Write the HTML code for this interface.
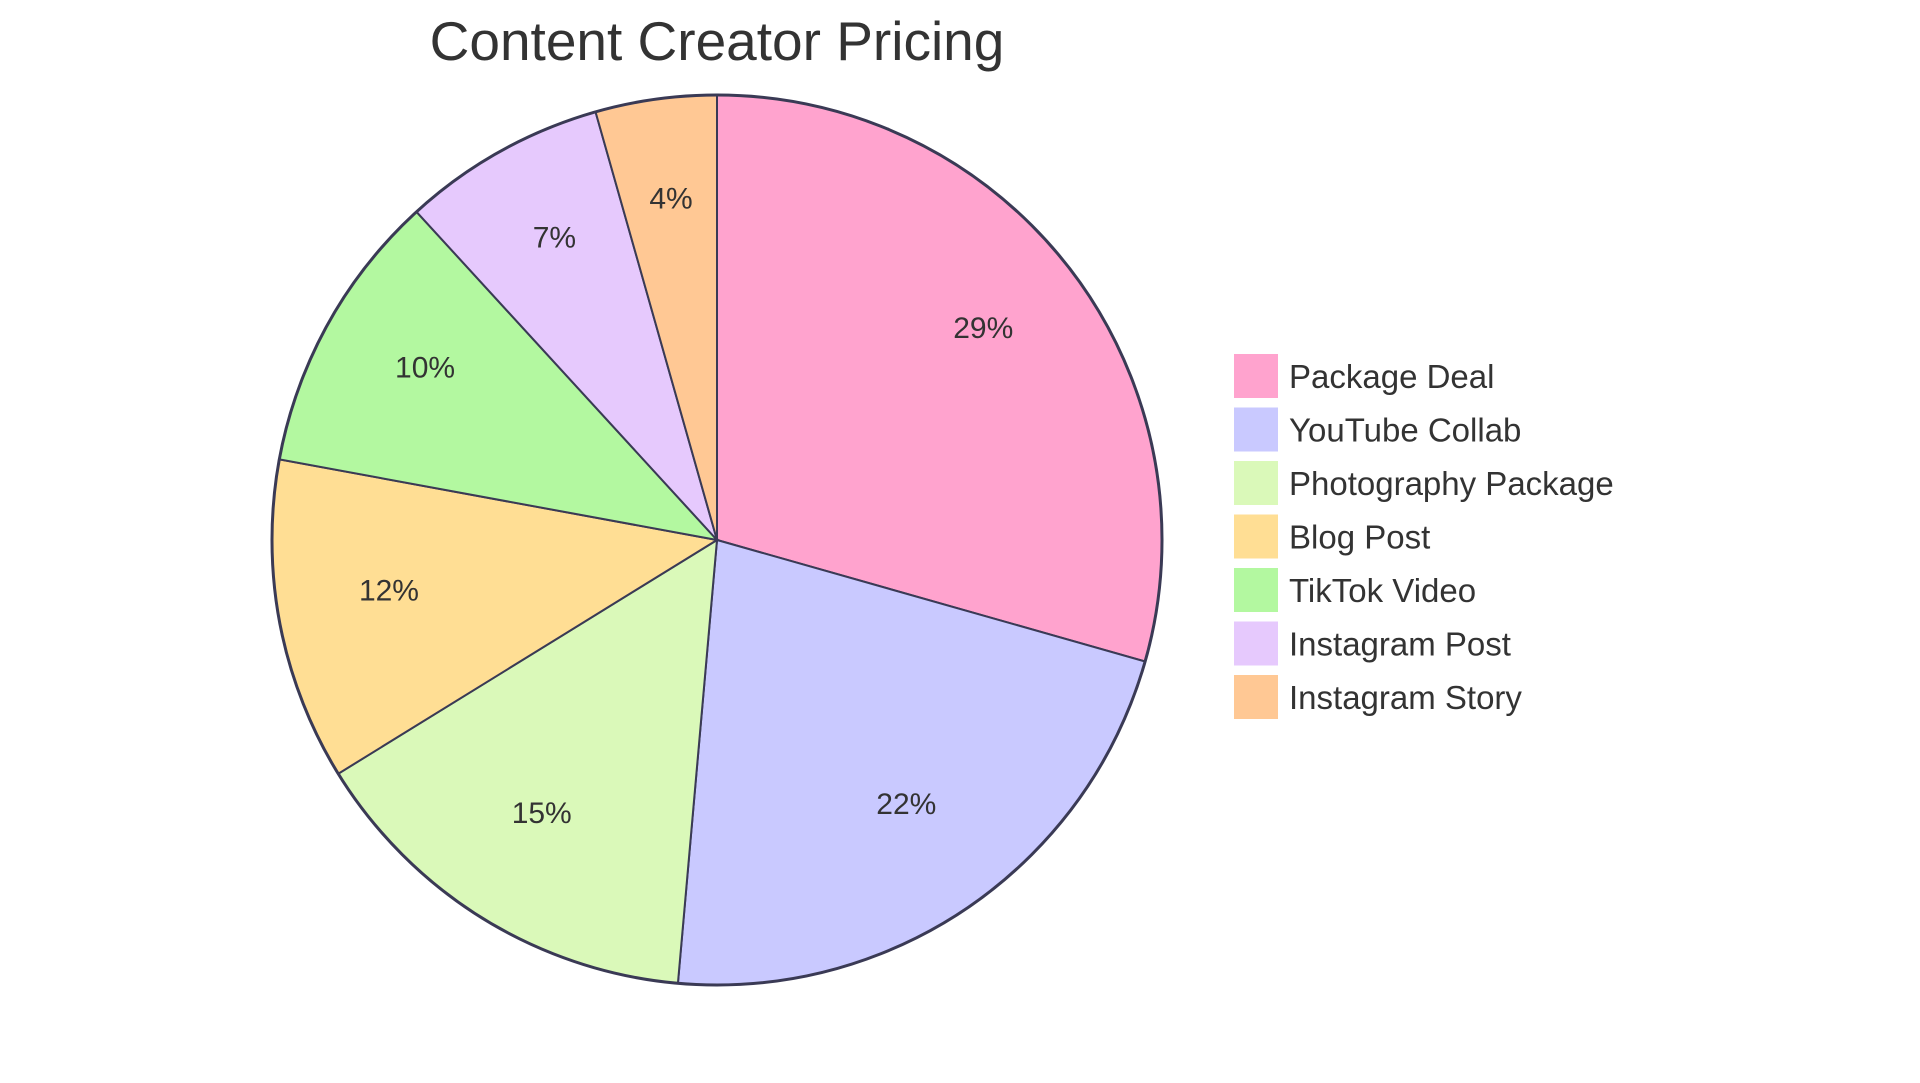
<!DOCTYPE html>
<html><head><meta charset="utf-8"><style>
html,body{margin:0;padding:0;background:#fff;}
svg{display:block;font-family:"Liberation Sans",sans-serif;}
</style></head><body>
<svg id="chart" width="1920" height="1083" viewBox="0 0 1920 1083" xmlns="http://www.w3.org/2000/svg">
<text x="717" y="60" text-anchor="middle" font-size="55" fill="#333">Content Creator Pricing</text>
<g id="slices"></g>
<g id="labels"></g>
<g id="legend"></g>
</svg>
<script>
const categories=["Package Deal","YouTube Collab","Photography Package","Blog Post","TikTok Video","Instagram Post","Instagram Story"];
const values=[29.4,22.0,14.8,11.7,10.3,7.4,4.4];
const colors=["#FFA3CE","#C9C9FF","#DAF9B9","#FFDE94","#B3F8A0","#E6C9FD","#FFC894"];
const cx=717,cy=540,R=445,NS="http://www.w3.org/2000/svg";
const total=values.reduce((a,b)=>a+b,0);
const sl=document.getElementById('slices'),lb=document.getElementById('labels'),lg=document.getElementById('legend');
function pt(a,r){return [cx+r*Math.sin(a),cy-r*Math.cos(a)];}
let acc=0;
values.forEach((v,i)=>{
  const a0=acc/total*2*Math.PI;acc+=v;const a1=acc/total*2*Math.PI;
  const p0=pt(a0,R),p1=pt(a1,R);
  const p=document.createElementNS(NS,'path');
  p.setAttribute('d',`M${cx},${cy}L${p0[0]},${p0[1]}A${R},${R} 0 ${a1-a0>Math.PI?1:0} 1 ${p1[0]},${p1[1]}Z`);
  p.setAttribute('fill',colors[i]);p.setAttribute('stroke','#3a3a55');p.setAttribute('stroke-width','2');
  
  
  sl.appendChild(p);
  const m=pt((a0+a1)/2,R*0.75);
  const t=document.createElementNS(NS,'text');
  t.setAttribute('x',m[0]);t.setAttribute('y',m[1]-1);t.setAttribute('text-anchor','middle');
  t.setAttribute('font-size','30');t.setAttribute('fill','#333');
  t.textContent=Math.round(v/total*100)+'%';
  
  
  lb.appendChild(t);
  const g=document.createElementNS(NS,'g');
  
  
  const y=354+i*53.5;
  const r=document.createElementNS(NS,'rect');
  r.setAttribute('x',1234);r.setAttribute('y',y);r.setAttribute('width',44);r.setAttribute('height',44);
  r.setAttribute('fill',colors[i]);
  
  
  g.appendChild(r);
  const tx=document.createElementNS(NS,'text');
  tx.setAttribute('x',1289);tx.setAttribute('y',y+34);tx.setAttribute('font-size','33');tx.setAttribute('fill','#333');
  tx.textContent=categories[i];
  
  
  g.appendChild(tx);
  lg.appendChild(g);
});
const c=document.createElementNS(NS,'circle');
c.setAttribute('cx',cx);c.setAttribute('cy',cy);c.setAttribute('r',R);c.setAttribute('fill','none');
c.setAttribute('stroke','#3a3a55');c.setAttribute('stroke-width','3');


sl.appendChild(c);
</script>
</body></html>
